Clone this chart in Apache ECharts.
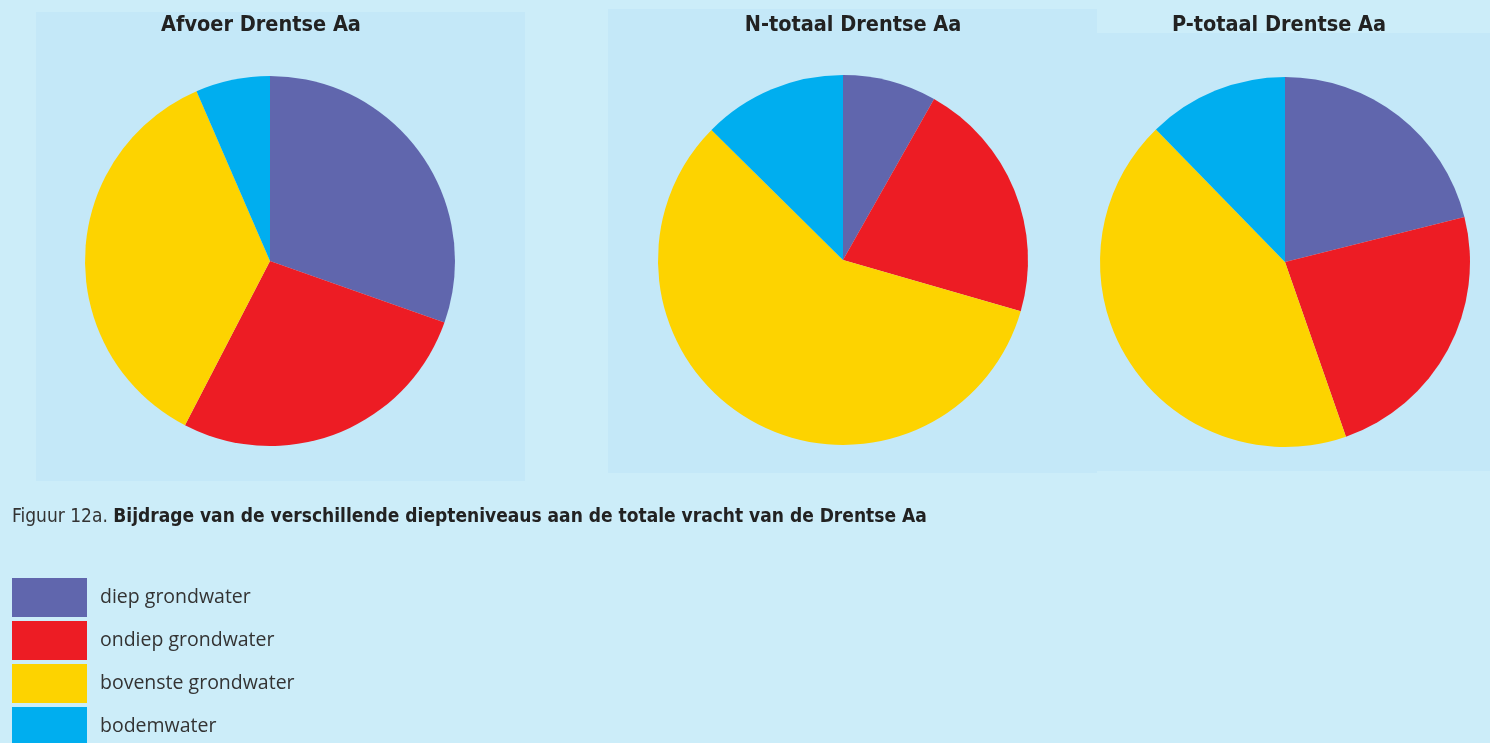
<!DOCTYPE html>
<html>
<head>
<meta charset="utf-8">
<script src="https://cdn.jsdelivr.net/npm/echarts@6/dist/echarts.min.js"></script>
<style>
  html, body { margin: 0; padding: 0; background: #ccedf9; }
  #chart { width: 1490px; height: 743px; }
</style>
</head>
<body>
<div id="chart"></div>
<script>
// categories (legend)
var categories = ['diep grondwater', 'ondiep grondwater', 'bovenste grondwater', 'bodemwater']
var colors = ['#6066ad', '#ed1c24', '#fdd300', '#00aeef']

// shares (%) per depth level
var titles = ['Afvoer Drentse Aa', 'N-totaal Drentse Aa', 'P-totaal Drentse Aa']
var afvoer = [30.4, 27.2, 35.9, 6.5]
var nTotaal = [8.2, 21.3, 58.0, 12.6]
var pTotaal = [21.1, 23.6, 43.1, 12.3]

var caption = 'Figuur 12a. '
var captionBold = 'Bijdrage van de verschillende diepteniveaus aan de totale vracht van de Drentse Aa'

var chart = echarts.init(document.getElementById('chart'))

function toData(values) {
  return values.map(function (v, i) {
    return { name: categories[i], value: v }
  })
}

var centers = [[270, 261], [843, 260], [1285, 262]]
var titleX = [261, 853, 1279]
var titleFont = "'Liberation Sans Narrow', 'DejaVu Sans Condensed', sans-serif"

var titleList = titles.map(function (t, i) {
  return {
    text: t,
    left: titleX[i],
    top: 14,
    padding: 0,
    textAlign: 'center',
    textStyle: { fontFamily: titleFont, fontWeight: 'bold', fontSize: 21.5, color: '#222' }
  }
})
titleList.push({
  text: '{a|' + caption + '}{b|' + captionBold + '}',
  left: 12,
  top: 508,
  padding: 0,
  textStyle: {
    fontWeight: 'normal',
    rich: {
      a: { fontFamily: titleFont, fontSize: 19, fontWeight: 'normal', color: '#333' },
      b: { fontFamily: titleFont, fontSize: 19, fontWeight: 'bold', color: '#222' }
    }
  }
})

var seriesList = [afvoer, nTotaal, pTotaal].map(function (vals, i) {
  return {
    type: 'pie',
    center: centers[i],
    radius: 185,
    startAngle: 90,
    clockwise: true,
    silent: true,
    label: { show: false },
    labelLine: { show: false },
    itemStyle: { borderWidth: 0 },
    emphasis: { disabled: true },
    data: toData(vals)
  }
})

chart.setOption({
  animation: false,
  backgroundColor: '#ccedf9',
  color: colors,
  title: titleList,
  graphic: [
    { type: 'rect', z: -10, shape: { x: 36, y: 12, width: 489, height: 469 }, style: { fill: '#c4e8f8' } },
    { type: 'rect', z: -10, shape: { x: 608, y: 9, width: 489, height: 464 }, style: { fill: '#c4e8f8' } },
    { type: 'rect', z: -10, shape: { x: 1097, y: 33, width: 393, height: 438 }, style: { fill: '#c4e8f8' } }
  ],
  legend: {
    orient: 'vertical',
    left: 12,
    top: 578,
    height: 220,
    padding: 0,
    icon: 'rect',
    itemWidth: 75,
    itemHeight: 39,
    itemGap: 4,
    selectedMode: false,
    data: categories,
    textStyle: {
      fontFamily: "'Open Sans', sans-serif",
      fontSize: 19.5,
      color: '#333',
      padding: [0, 0, 0, 8]
    }
  },
  series: seriesList
})
</script>
</body>
</html>
